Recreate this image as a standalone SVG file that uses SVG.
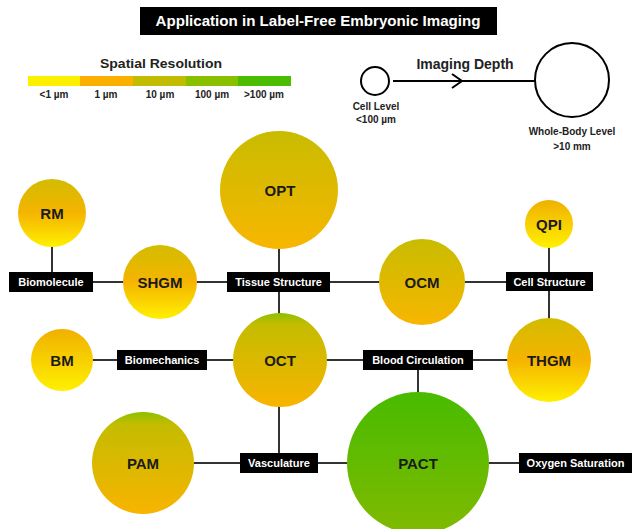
<svg xmlns="http://www.w3.org/2000/svg" width="634" height="529" viewBox="0 0 634 529">
<style>
text{font-family:"Liberation Sans",Arial,sans-serif;font-weight:bold}
.node{font-size:15px;fill:#1a1a1a;text-anchor:middle}
.lbl{font-size:11px;fill:#fff;text-anchor:middle}
.box{fill:#000}
.con line{stroke:#333;stroke-width:2}
.leg{font-size:10px;fill:#222;text-anchor:middle}
.dep{font-size:10px;fill:#222;text-anchor:middle}
</style>
<defs>
<linearGradient id="gYel" x1="0" y1="0" x2="0" y2="1"><stop offset="0" stop-color="#d2bc00"/><stop offset="0.5" stop-color="#f5b400"/><stop offset="1" stop-color="#fff000"/></linearGradient>
<linearGradient id="gOrgYel" x1="0" y1="0" x2="0" y2="1"><stop offset="0" stop-color="#f0b000"/><stop offset="1" stop-color="#fff000"/></linearGradient>
<linearGradient id="gOliOrg" x1="0" y1="0" x2="0" y2="1"><stop offset="0" stop-color="#c8bc00"/><stop offset="1" stop-color="#f8b600"/></linearGradient>
<linearGradient id="gGrnOrg" x1="0" y1="0" x2="0" y2="1"><stop offset="0" stop-color="#8cc000"/><stop offset="0.12" stop-color="#c4bc00"/><stop offset="1" stop-color="#f8b400"/></linearGradient>
<linearGradient id="gGrn" x1="0" y1="0" x2="0" y2="1"><stop offset="0" stop-color="#48bb00"/><stop offset="1" stop-color="#80ba00"/></linearGradient>
</defs>
<rect width="634" height="529" fill="#fff"/>

<g id="title">
<rect x="140" y="7" width="357" height="28" fill="#000"/>
<text x="318" y="26" font-size="15" fill="#fff" text-anchor="middle" textLength="325" lengthAdjust="spacingAndGlyphs">Application in Label-Free Embryonic Imaging</text>
</g>

<g id="legend">
<text x="161" y="68" font-size="13" fill="#222" text-anchor="middle" textLength="122" lengthAdjust="spacingAndGlyphs">Spatial Resolution</text>
<rect x="28" y="76" width="53" height="10" fill="#fcf000"/>
<rect x="80" y="76" width="54" height="10" fill="#fbb000"/>
<rect x="133" y="76" width="54" height="10" fill="#c2bc00"/>
<rect x="186" y="76" width="53" height="10" fill="#88c000"/>
<rect x="238" y="76" width="53" height="10" fill="#4cbc00"/>
<text class="leg" x="54" y="98">&lt;1 µm</text>
<text class="leg" x="106" y="98">1 µm</text>
<text class="leg" x="160" y="98">10 µm</text>
<text class="leg" x="212" y="98">100 µm</text>
<text class="leg" x="264" y="98">&gt;100 µm</text>
</g>

<g id="depth">
<circle cx="375" cy="81" r="14" fill="#fff" stroke="#000" stroke-width="2"/>
<line x1="393" y1="81" x2="536" y2="81" stroke="#000" stroke-width="2"/>
<polyline points="452,74 462,81 452,88" fill="none" stroke="#000" stroke-width="2"/>
<circle cx="572" cy="80" r="37" fill="#fff" stroke="#000" stroke-width="2"/>
<text x="465" y="69" font-size="14" fill="#222" text-anchor="middle">Imaging Depth</text>
<text class="dep" x="376" y="110">Cell Level</text>
<text class="dep" x="376" y="123">&lt;100 µm</text>
<text class="dep" x="572" y="135">Whole-Body Level</text>
<text class="dep" x="572" y="150">&gt;10 mm</text>
</g>

<g id="connectors" class="con">
<line x1="52" y1="246" x2="52" y2="272"/>
<line x1="93" y1="282" x2="124" y2="282"/>
<line x1="196" y1="282" x2="227" y2="282"/>
<line x1="279" y1="248" x2="279" y2="272"/>
<line x1="279" y1="292" x2="279" y2="314"/>
<line x1="330" y1="282" x2="380" y2="282"/>
<line x1="464" y1="282" x2="506" y2="282"/>
<line x1="549" y1="247" x2="549" y2="272"/>
<line x1="549" y1="291" x2="549" y2="319"/>
<line x1="92" y1="360" x2="117" y2="360"/>
<line x1="207" y1="360" x2="234" y2="360"/>
<line x1="326" y1="360" x2="363" y2="360"/>
<line x1="473" y1="360" x2="508" y2="360"/>
<line x1="418" y1="370" x2="418" y2="393"/>
<line x1="279" y1="406" x2="279" y2="453"/>
<line x1="193" y1="463" x2="240" y2="463"/>
<line x1="318" y1="463" x2="348" y2="463"/>
<line x1="488" y1="463" x2="519" y2="463"/>
</g>

<g id="RM"><circle cx="52" cy="213" r="34" fill="url(#gYel)"/><text class="node" x="52" y="219">RM</text></g>
<g id="SHGM"><circle cx="160" cy="282" r="37" fill="url(#gYel)"/><text class="node" x="160" y="288">SHGM</text></g>
<g id="OPT"><circle cx="279" cy="190" r="59" fill="url(#gOliOrg)"/><text class="node" x="280" y="196">OPT</text></g>
<g id="OCM"><circle cx="422" cy="282" r="43" fill="url(#gOliOrg)"/><text class="node" x="422" y="288">OCM</text></g>
<g id="QPI"><circle cx="549" cy="224" r="24" fill="url(#gOrgYel)"/><text class="node" x="549" y="230">QPI</text></g>
<g id="BM"><circle cx="62" cy="360" r="31" fill="url(#gOrgYel)"/><text class="node" x="62" y="366">BM</text></g>
<g id="OCT"><circle cx="280" cy="360" r="47" fill="url(#gGrnOrg)"/><text class="node" x="280" y="366">OCT</text></g>
<g id="THGM"><circle cx="549" cy="360" r="42" fill="url(#gYel)"/><text class="node" x="549" y="366">THGM</text></g>
<g id="PAM"><circle cx="143" cy="463" r="51" fill="url(#gGrnOrg)"/><text class="node" x="143" y="469">PAM</text></g>
<g id="PACT"><circle cx="418" cy="463" r="71" fill="url(#gGrn)"/><text class="node" x="418" y="469">PACT</text></g>

<g id="Biomolecule"><rect class="box" x="9" y="272" width="84" height="20"/><text class="lbl" x="51" y="286">Biomolecule</text></g>
<g id="TissueStructure"><rect class="box" x="227" y="272" width="103" height="20"/><text class="lbl" x="278.5" y="286">Tissue Structure</text></g>
<g id="CellStructure"><rect class="box" x="506" y="272" width="87" height="19"/><text class="lbl" x="549.5" y="286">Cell Structure</text></g>
<g id="Biomechanics"><rect class="box" x="117" y="350" width="90" height="20"/><text class="lbl" x="162" y="364">Biomechanics</text></g>
<g id="BloodCirculation"><rect class="box" x="363" y="350" width="110" height="20"/><text class="lbl" x="418" y="364">Blood Circulation</text></g>
<g id="Vasculature"><rect class="box" x="240" y="453" width="78" height="20"/><text class="lbl" x="279" y="467">Vasculature</text></g>
<g id="OxygenSaturation"><rect class="box" x="519" y="453" width="113" height="20"/><text class="lbl" x="575.5" y="467">Oxygen Saturation</text></g>
</svg>
